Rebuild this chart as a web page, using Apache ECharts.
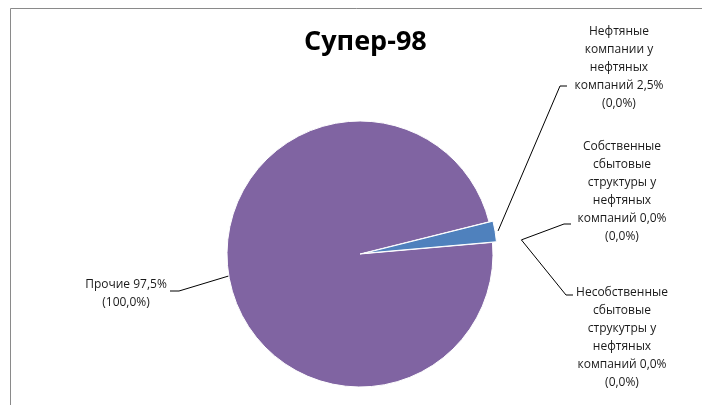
<!DOCTYPE html>
<html>
<head>
<meta charset="utf-8">
<script src="https://cdn.jsdelivr.net/npm/echarts@6/dist/echarts.min.js"></script>
<style>html,body{margin:0;padding:0;background:#fff;}#c{width:702px;height:405px;}</style>
</head>
<body>
<div id="c"></div>
<script>
var categories = [
  'Нефтяные компании у нефтяных компаний',
  'Собственные сбытовые структуры у нефтяных компаний',
  'Несобственные сбытовые струкутры у нефтяных компаний',
  'Прочие'
];
var labelNames = [
  'Нефтяные\nкомпании у\nнефтяных\nкомпаний',
  'Собственные\nсбытовые\nструктуры у\nнефтяных\nкомпаний',
  'Несобственные\nсбытовые\nструкутры у\nнефтяных\nкомпаний',
  'Прочие'
];
var shares = [2.5, 0.0, 0.0, 97.5];
var prevShares = [0.0, 0.0, 0.0, 100.0];
var colors = ['#4F81BD', '#C0504D', '#9BBB59', '#8064A2'];
var explodedIndex = 0;

var center = [360, 254];
var radius = 133;
var startAngle = 14;
var explodeOffset = 4;
var lineH = 18;
// label placement (center x, top y), leader attach line index & y-shift, left-edge half width
var labelPos = [[619, 23], [622, 138], [622, 284], [126, 276]];
var attachLine = [3, 4, 0, 0];
var attachShift = [0, 5, 2, 6];
var halfW = [52, 51, 49, 44];
var startDist = [140, 162, 162, 133];

function fmt(v) { return v.toFixed(1).replace('.', ',') + '%'; }

var total = shares.reduce(function (a, b) { return a + b; }, 0);
var before = 0;
for (var k = 0; k < explodedIndex; k++) before += shares[k];
var midDeg = startAngle - (before + shares[explodedIndex] / 2) / total * 360;
var midRad = midDeg * Math.PI / 180;
var explodedCenter = [center[0] + Math.cos(midRad) * explodeOffset, center[1] - Math.sin(midRad) * explodeOffset];

var mainData = categories.map(function (c, i) {
  return {
    name: c,
    value: shares[i],
    itemStyle: i === explodedIndex
      ? { color: 'rgba(0,0,0,0)', borderWidth: 0 }
      : { color: colors[i] }
  };
});
var explodedData = categories.map(function (c, i) {
  return {
    name: c,
    value: shares[i],
    itemStyle: i === explodedIndex
      ? { color: colors[i], borderColor: '#fff', borderWidth: 1 }
      : { color: 'rgba(0,0,0,0)', borderWidth: 0 }
  };
});

var chart = echarts.init(document.getElementById('c'), null, { renderer: 'canvas' });
chart.setOption({
  animation: false,
  backgroundColor: '#fff',
  title: {
    text: 'Супер-98',
    left: 299, top: 24,
    textStyle: { fontFamily: 'Open Sans', fontWeight: 'bold', fontSize: 27, color: '#000' }
  },
  graphic: [{
    type: 'rect', shape: { x: 10.5, y: 8.5, width: 800, height: 600 },
    style: { fill: 'none', stroke: '#8a8a8a', lineWidth: 1 }, silent: true
  }],
  series: [{
    type: 'pie',
    center: center,
    radius: radius,
    startAngle: startAngle,
    clockwise: true,
    avoidLabelOverlap: false,
    selectedMode: false,
    silent: true,
    itemStyle: { borderColor: '#fff', borderWidth: 1 },
    label: {
      show: true,
      position: 'outside',
      fontFamily: 'Open Sans',
      fontSize: 12,
      lineHeight: lineH,
      color: '#1a1a1a',
      align: 'center',
      formatter: function (p) {
        var i = p.dataIndex;
        return labelNames[i] + ' ' + fmt(shares[i]) + '\n(' + fmt(prevShares[i]) + ')';
      }
    },
    labelLine: { show: true, lineStyle: { color: '#000', width: 1 } },
    labelLayout: function (p) {
      var i = p.dataIndex;
      var pos = labelPos[i];
      var p0 = p.labelLinePoints ? p.labelLinePoints[0] : center;
      var dx = p0[0] - center[0], dy = p0[1] - center[1];
      var len = Math.sqrt(dx * dx + dy * dy) || 1;
      var sx = center[0] + dx / len * startDist[i];
      var sy = center[1] + dy / len * startDist[i];
      var attachY = pos[1] + (attachLine[i] + 0.5) * lineH + attachShift[i];
      var endX, elbowX;
      if (i === 3) {
        endX = pos[0] + halfW[i]; elbowX = endX + 9;
      } else {
        endX = pos[0] - halfW[i]; elbowX = endX - 7;
      }
      return { x: pos[0], y: pos[1], align: 'center', verticalAlign: 'top',
        labelLinePoints: [[sx, sy], [elbowX, attachY], [endX, attachY]] };
    },
    data: mainData
  }, {
    type: 'pie',
    center: explodedCenter,
    radius: radius,
    startAngle: startAngle,
    clockwise: true,
    selectedMode: false,
    silent: true,
    label: { show: false },
    labelLine: { show: false },
    data: explodedData
  }]
});
</script>
</body>
</html>
